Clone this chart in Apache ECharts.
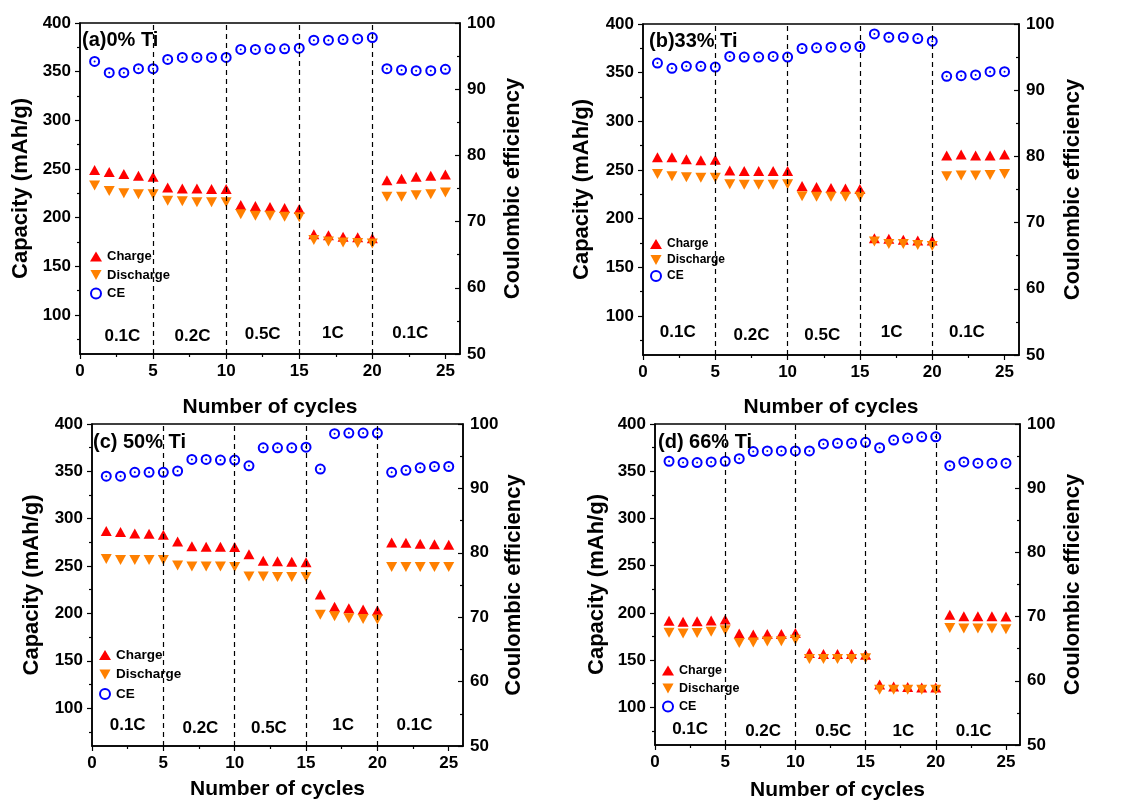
<!DOCTYPE html>
<html>
<head>
<meta charset="utf-8">
<script src="https://cdn.jsdelivr.net/npm/echarts@6/dist/echarts.min.js"></script>
<style>
html,body{margin:0;padding:0;background:#fff;}
#main{width:1133px;height:802px;}
</style>
</head>
<body>
<div id="main"></div>
<script>
// cycle numbers and tick values
var cycles = [1,2,3,4,5,6,7,8,9,10,11,12,13,14,15,16,17,18,19,20,21,22,23,24,25];
var cycleTicks = [0,5,10,15,20,25];
var cycleMinor = [2.5,7.5,12.5,17.5,22.5];
var capTicks = [100,150,200,250,300,350,400];
var capMinor = [75,125,175,225,275,325,375];
var rateSwitch = [5,10,15,20];
var rateNames = ['0.1C','0.2C','0.5C','1C','0.1C'];

// (a) 0% Ti
var chargeA = [249,247,245,243,242, 231,230,230,229.5,229.5, 213,212,211,210,209, 183,182,180.5,180,179, 238.5,240,242,243,244.5];
var dischargeA = [233,227.5,225,224,224, 217.5,217,216,216,216, 203.5,202,202,201,200.5, 177,175.5,174.5,174,173.5, 221.5,221.5,223,224,226];
var ceA = [94.2,92.5,92.5,93.1,93.1, 94.5,94.8,94.8,94.8,94.8, 96.0,96.0,96.1,96.1,96.2, 97.4,97.4,97.5,97.6,97.8, 93.1,92.9,92.8,92.8,93.0];

// (b) 33% Ti
var chargeB = [263,263,261,260,260.5, 249.5,249,249,249,249, 233.5,232.5,231.5,231,230.5, 180,179.5,178.5,177.5,177.5, 265,266,265,265,266];
var dischargeB = [246,243.5,242.5,242,242, 235.5,235,235,235,235.5, 223,222.5,222.5,222.5,222.5, 176.5,174,174,173,172, 243.5,244.5,244.5,245,246];
var ceB = [94.1,93.3,93.6,93.6,93.5, 95.1,95.0,95.0,95.1,95.0, 96.3,96.4,96.5,96.5,96.6, 98.5,98.0,98.0,97.8,97.4, 92.1,92.2,92.3,92.8,92.8];

// (c) 50% Ti
var chargeC = [287,286,284.5,284,283, 276,271,270.5,270.5,270, 262.5,255.5,255,254.5,254, 220,207,205.5,204,203, 275,274.5,273.5,273,272.5];
var dischargeC = [257.5,256.5,256.5,256.5,256.5, 250.5,249.5,249.5,249.5,249, 239,239,238.5,238.5,238.5, 198.5,197,195,194,193.5, 249,249,249,249,249];
var ceC = [91.9,91.9,92.5,92.5,92.5, 92.7,94.5,94.5,94.4,94.4, 93.5,96.3,96.3,96.3,96.4, 93.0,98.5,98.6,98.6,98.6, 92.5,92.8,93.2,93.4,93.4];

// (d) 66% Ti
var chargeD = [191.5,190.5,191,192,193, 178,177,177.5,177.5,178.5, 157.5,156.5,156.5,156.5,155.5, 124,122,121.5,121,121, 198,196.5,196.5,196.5,196];
var dischargeD = [179,178,178.5,180,181.5, 168,168.5,169.5,170,171.5, 151,151,151,151,152, 118.5,118.5,118.5,118.5,118.5, 184,183.5,183.5,183.5,182.5];
var ceD = [94.2,94.0,94.0,94.1,94.2, 94.6,95.7,95.8,95.8,95.8, 95.8,96.9,97.0,97.0,97.15, 96.3,97.5,97.8,98.0,98.0, 93.5,94.1,93.9,93.9,93.9];

var FONT = 'Arial, "Liberation Sans", sans-serif';
var DOWN = 'path://M0,0L10,0L5,9Z';

var panels = [
    {title:'(a)0% Ti', charge:chargeA, discharge:dischargeA, ce:ceA,
     grid:{left:80, top:23, width:380, height:331}, titlePos:[82,30],
     legend:{left:90, top:250, gap:5.5, size:13}, xGap:43, lGap:48, rGap:42,
     rateAt:[[2.9,78],[7.7,78],[12.5,80],[17.3,81],[22.6,81]]},
    {title:'(b)33% Ti', charge:chargeB, discharge:dischargeB, ce:ceB,
     grid:{left:643, top:24, width:376, height:331}, titlePos:[649,31],
     legend:{left:650, top:238, gap:4, size:12}, xGap:42, lGap:50, rGap:43,
     rateAt:[[2.4,83],[7.5,80],[12.4,80],[17.2,83],[22.4,83]]},
    {title:'(c) 50% Ti', charge:chargeC, discharge:dischargeC, ce:ceC,
     grid:{left:92, top:424, width:371, height:322}, titlePos:[93,432],
     legend:{left:99, top:648, gap:5.5, size:13.5}, xGap:33, lGap:49, rGap:40,
     rateAt:[[2.5,82],[7.6,79],[12.4,79],[17.6,82],[22.6,82]]},
    {title:'(d) 66% Ti', charge:chargeD, discharge:dischargeD, ce:ceD,
     grid:{left:655, top:424, width:365, height:322}, titlePos:[658,432],
     legend:{left:662, top:664, gap:5, size:12.5}, xGap:35, lGap:47, rGap:42,
     rateAt:[[2.5,77],[7.7,74],[12.7,74],[17.7,74],[22.7,75]]}
];

function pairs(ys){
    var out = [];
    for (var i = 0; i < cycles.length; i++) out.push([cycles[i], ys[i]]);
    return out;
}

var option = {
    backgroundColor:'#fff',
    animation:false,
    title:[], legend:[], grid:[], xAxis:[], yAxis:[], series:[]
};

var axisText = {fontSize:17, fontWeight:'bold', color:'#000', fontFamily:FONT};
var nameText = {fontSize:21, fontWeight:'bold', color:'#000', fontFamily:FONT};
var blackLine = {color:'#000', width:1.5};

panels.forEach(function(p, k){
    var xi = k*2, yi = k*4;
    option.grid.push({left:p.grid.left, top:p.grid.top, width:p.grid.width, height:p.grid.height,
        show:true, borderColor:'#000', borderWidth:1.5, backgroundColor:'transparent'});
    option.title.push({text:p.title, left:p.titlePos[0], top:p.titlePos[1], padding:0,
        textStyle:{fontSize:20, fontWeight:'bold', color:'#000', fontFamily:FONT}});
    option.legend.push({data:['Charge','Discharge','CE'], orient:'vertical', left:p.legend.left, top:p.legend.top,
        padding:0, itemWidth:12, itemHeight:10, itemGap:p.legend.gap, selectedMode:false,
        textStyle:{fontSize:p.legend.size, fontWeight:'bold', color:'#000', fontFamily:FONT}});

    // x axes: main + minor ticks
    option.xAxis.push({gridIndex:k, type:'value', position:'bottom', min:0, max:26,
        name:'Number of cycles', nameLocation:'middle', nameGap:p.xGap, nameTextStyle:nameText,
        axisLine:{lineStyle:blackLine},
        axisTick:{customValues:cycleTicks, length:5, lineStyle:{color:'#000', width:1.2}},
        axisLabel:Object.assign({customValues:cycleTicks, margin:9}, axisText),
        splitLine:{show:false}});
    option.xAxis.push({gridIndex:k, type:'value', position:'bottom', min:0, max:26,
        axisLine:{show:false},
        axisTick:{customValues:cycleMinor, length:3, lineStyle:{color:'#000', width:1.2}},
        axisLabel:{show:false}, splitLine:{show:false}});

    // y axes: capacity main, capacity minor, CE
    option.yAxis.push({gridIndex:k, type:'value', position:'left', min:60, max:400,
        name:'Capacity (mAh/g)', nameLocation:'middle', nameRotate:90, nameGap:p.lGap,
        nameTextStyle:{fontSize:22, fontWeight:'bold', color:'#000', fontFamily:FONT},
        axisLine:{show:true, lineStyle:blackLine},
        axisTick:{show:true, customValues:capTicks, length:5, lineStyle:{color:'#000', width:1.2}},
        axisLabel:Object.assign({customValues:capTicks, margin:9}, axisText),
        splitLine:{show:false}});
    option.yAxis.push({gridIndex:k, type:'value', position:'left', min:60, max:400,
        axisLine:{show:false},
        axisTick:{show:true, customValues:capMinor, length:3, lineStyle:{color:'#000', width:1.2}},
        axisLabel:{show:false}, splitLine:{show:false}});
    option.yAxis.push({gridIndex:k, type:'value', position:'right', min:50, max:100, interval:10,
        name:'Coulombic efficiency', nameLocation:'middle', nameRotate:90, nameGap:p.rGap,
        nameTextStyle:{fontSize:22, fontWeight:'bold', color:'#000', fontFamily:FONT},
        axisLine:{show:true, lineStyle:blackLine},
        axisTick:{show:true, inside:true, length:5, lineStyle:{color:'#000', width:1.2}},
        minorTick:{show:true, splitNumber:2, length:3, lineStyle:{color:'#000', width:1.2}},
        axisLabel:Object.assign({margin:7}, axisText),
        splitLine:{show:false}});
    option.yAxis.push({gridIndex:k, type:'value', position:'right', min:50, max:100, show:false});

    option.series.push({name:'Charge', type:'scatter', xAxisIndex:xi, yAxisIndex:yi,
        symbol:'triangle', symbolSize:[11,10], itemStyle:{color:'#ff0000', opacity:1},
        data:pairs(p.charge),
        markLine:{silent:true, symbol:'none', label:{show:false},
            lineStyle:{color:'#000', type:[5,4], width:1.2},
            data:rateSwitch.map(function(v){ return {xAxis:v}; })}});
    option.series.push({name:'Discharge', type:'scatter', xAxisIndex:xi, yAxisIndex:yi,
        symbol:DOWN, symbolSize:[11,10], itemStyle:{color:'#ff8000', opacity:1},
        data:pairs(p.discharge)});
    option.series.push({name:'CE', type:'scatter', xAxisIndex:xi, yAxisIndex:yi+2,
        symbol:'emptyCircle', symbolSize:9, itemStyle:{color:'#0000ff', borderWidth:1, opacity:1},
        data:pairs(p.ce)});
    option.series.push({name:'CE dot', type:'scatter', xAxisIndex:xi, yAxisIndex:yi+2,
        symbol:'circle', symbolSize:2, itemStyle:{color:'#0000ff', opacity:1}, silent:true,
        data:pairs(p.ce)});
    option.series.push({name:'rate', type:'scatter', xAxisIndex:xi, yAxisIndex:yi, silent:true,
        symbolSize:1, itemStyle:{color:'rgba(0,0,0,0)', opacity:1},
        label:{show:true, position:'inside', formatter:'{b}', fontSize:17, fontWeight:'bold', color:'#000', fontFamily:FONT},
        data:p.rateAt.map(function(pt, i){ return {name:rateNames[i], value:pt}; })});
});

var myChart = echarts.init(document.getElementById('main'));
myChart.setOption(option);
</script>
</body>
</html>
